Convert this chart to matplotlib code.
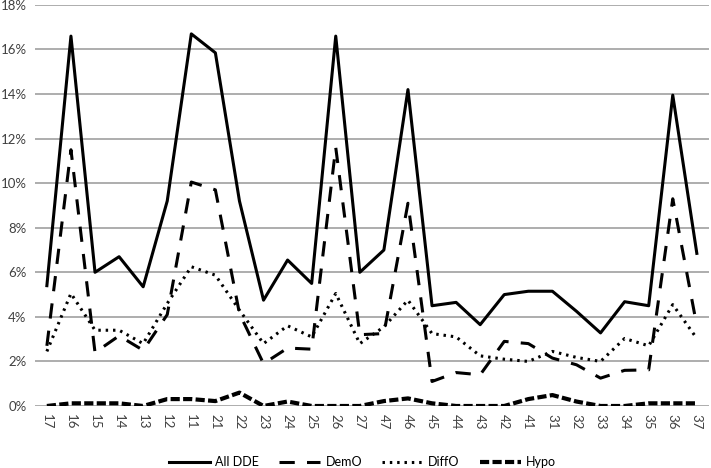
import matplotlib
matplotlib.use("Agg")
from matplotlib import pyplot as plt
from matplotlib.ticker import FuncFormatter
import numpy as np

teeth = ['17', '16', '15', '14', '13', '12', '11', '21', '22', '23', '24', '25', '26', '27',
         '47', '46', '45', '44', '43', '42', '41', '31', '32', '33', '34', '35', '36', '37']

all_dde = [5.4, 16.6, 6.0, 6.7, 5.35, 9.2, 16.7, 15.85, 9.2, 4.75, 6.55, 5.5, 16.6, 6.0,
           7.0, 14.2, 4.5, 4.65, 3.65, 5.0, 5.15, 5.15, 4.25, 3.28, 4.68, 4.5, 13.95, 6.85]
demo = [2.7, 11.5, 2.4, 3.15, 2.5, 4.1, 10.05, 9.7, 4.15, 1.9, 2.6, 2.55, 11.6, 3.2,
        3.25, 9.1, 1.1, 1.5, 1.4, 2.9, 2.8, 2.15, 1.85, 1.25, 1.6, 1.62, 9.3, 3.6]
diffo = [2.45, 5.05, 3.4, 3.4, 2.8, 4.6, 6.25, 5.87, 4.3, 2.8, 3.6, 3.1, 5.05, 2.8,
         3.55, 4.75, 3.25, 3.1, 2.25, 2.1, 2.0, 2.45, 2.18, 2.0, 3.03, 2.7, 4.55, 3.03]
hypo = [0.0, 0.12, 0.12, 0.12, 0.0, 0.31, 0.31, 0.22, 0.6, 0.0, 0.2, 0.0, 0.0, 0.0,
        0.22, 0.34, 0.12, 0.0, 0.0, 0.0, 0.31, 0.49, 0.2, 0.0, 0.0, 0.12, 0.12, 0.12]

plt.rcParams['font.family'] = ['Lato', 'DejaVu Sans']

x = np.arange(len(teeth))
fig = plt.figure(figsize=(7.11, 4.68), dpi=100)
ax = fig.add_axes([0.049, 0.1325, 0.948, 0.857])

ax.plot(x, all_dde, color='black', lw=2.2, label='All DDE')
ax.plot(x, demo, color='black', lw=2.2, dashes=(5, 4), label='DemO')
ax.plot(x, diffo, color='black', lw=2.2, dashes=(0.8, 1.6), label='DiffO')
ax.plot(x, hypo, color='black', lw=3.0, dashes=(2.2, 0.8), label='Hypo')

ax.set_xlim(-0.5, len(teeth) - 0.5)
ax.set_ylim(0, 18)
ax.set_yticks(np.arange(0, 19, 2))
ax.yaxis.set_major_formatter(FuncFormatter(lambda v, p: '%d%%' % v))
ax.set_xticks(x)
ax.set_xticklabels(teeth, rotation=270)
ax.tick_params(length=0, labelsize=9.5, colors='#404040')
ax.tick_params(axis='y', pad=6)
ax.tick_params(axis='x', pad=6)
ax.grid(axis='y', color='#a0a0a0', lw=1.2)
ax.set_axisbelow(True)
for s in ax.spines.values():
    s.set_visible(False)

fig.legend(loc='lower center', ncol=4, frameon=False, fontsize=9,
           bbox_to_anchor=(0.51, -0.025), handlelength=3.3, handletextpad=0.4,
           columnspacing=1.6)

fig.savefig('out.png', dpi=100)
